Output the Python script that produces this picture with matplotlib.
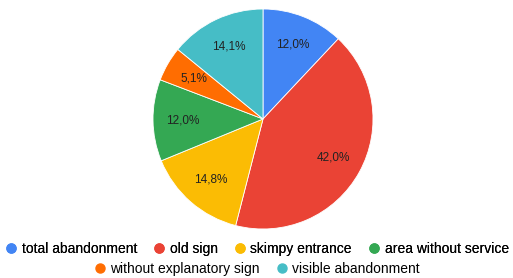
import matplotlib.pyplot as plt
from matplotlib.lines import Line2D

plt.rcParams['font.family'] = ['Liberation Sans', 'DejaVu Sans']

labels = ['total abandonment', 'old sign', 'skimpy entrance', 'area without service',
          'without explanatory sign', 'visible abandonment']
values = [12.0, 42.0, 14.8, 12.0, 5.1, 14.1]
colors = ['#4285F4', '#EA4335', '#FBBC04', '#34A853', '#FF6D01', '#46BDC6']

fig = plt.figure(figsize=(5.13, 2.78), dpi=100)
# pie: center ~ (263, 119) px, radius ~110 px
ax = fig.add_axes([(263 - 110) / 513, 1 - (119 + 110) / 278, 220 / 513, 220 / 278])

wedges, texts, autotexts = ax.pie(
    values, colors=colors, startangle=90, counterclock=False,
    autopct=lambda p: f'{p:.1f}%'.replace('.', ','), pctdistance=0.73,
    wedgeprops=dict(linewidth=0.6, edgecolor='white'),
    textprops=dict(fontsize=8.5, color='#222222'))
ax.set_xlim(-1, 1)
ax.set_ylim(-1, 1)
ax.set_aspect('equal')

def handles(idx):
    return [Line2D([], [], marker='o', linestyle='', markersize=6.5,
                   markerfacecolor=colors[i], markeredgecolor=colors[i]) for i in idx]

leg_kw = dict(frameon=False, fontsize=10, handletextpad=0.25, columnspacing=1.1,
              handlelength=1.0, borderaxespad=0, loc='center')
row1 = [0, 1, 2, 3]
row2 = [4, 5]
l1 = fig.legend(handles(row1), [labels[i] for i in row1], ncol=4,
                bbox_to_anchor=(0.5, 1 - 249 / 278), **leg_kw)
fig.add_artist(l1)
fig.legend(handles(row2), [labels[i] for i in row2], ncol=2,
           bbox_to_anchor=(0.5, 1 - 269 / 278), **leg_kw)

fig.savefig('out.png', dpi=100)
